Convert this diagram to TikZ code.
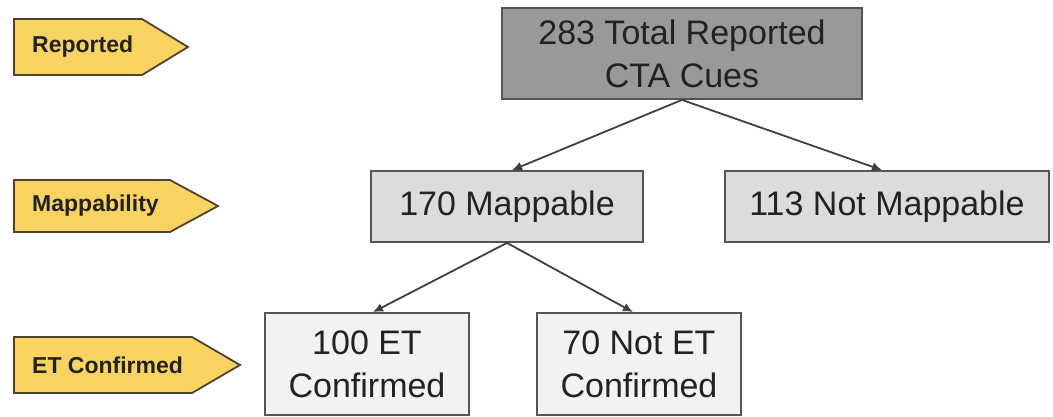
\documentclass[tikz,border=0pt]{standalone}
\usepackage{fontspec}
\setmainfont{Liberation Sans}
\usetikzlibrary{arrows.meta}
\definecolor{tagfill}{HTML}{F9D362}
\definecolor{tagline}{HTML}{4F4330}
\definecolor{topfill}{HTML}{999999}
\definecolor{midfill}{HTML}{DCDCDC}
\definecolor{lowfill}{HTML}{F2F2F2}
\definecolor{boxline}{HTML}{555555}
\definecolor{txt}{HTML}{222222}
\tikzset{
  box/.style={draw=boxline, line width=1.8pt, rectangle, align=center, text=txt,
    font=\fontsize{34}{43}\selectfont, inner sep=0pt},
  tagshape/.style={fill=tagfill, draw=tagline, line width=1.8pt, line join=miter},
  tagtext/.style={anchor=west, font=\bfseries\fontsize{23}{27}\selectfont, text=txt, inner sep=0pt},
  link/.style={draw=black!75, line width=1.8pt, -{Latex[length=10pt,width=9pt]}}
}
\begin{document}
\begin{tikzpicture}[x=1pt,y=-1pt]
\useasboundingbox (0,0) rectangle (1053,417);
% level tags
\draw[tagshape] (14,19) -- (142,19) -- (188,47) -- (142,75) -- (14,75) -- cycle;
\node[tagtext] (t1) at (32,47) {Reported};
\draw[tagshape] (14,180) -- (170,180) -- (218,206) -- (170,232) -- (14,232) -- cycle;
\node[tagtext] (t2) at (32,206) {Mappability};
\draw[tagshape] (14,337) -- (192,337) -- (240,365) -- (192,393) -- (14,393) -- cycle;
\node[tagtext] (t3) at (32,365) {ET Confirmed};
% boxes
\node[box, fill=topfill, minimum width=360pt, minimum height=91pt] (top) at (682,53.5) {283 Total Reported\\CTA Cues};
\node[box, fill=midfill, minimum width=272pt, minimum height=71pt] (map) at (507,206.5) {170 Mappable};
\node[box, fill=midfill, minimum width=324pt, minimum height=71pt] (nmap) at (887,206.5) {113 Not Mappable};
\node[box, fill=lowfill, minimum width=204pt, minimum height=102pt] (et) at (367,364) {100 ET\\Confirmed};
\node[box, fill=lowfill, minimum width=204pt, minimum height=102pt] (net) at (639,364) {70 Not ET\\Confirmed};
% connectors
\draw[link] (top.south) -- ([xshift=5pt]map.north);
\draw[link] (top.south) -- ([xshift=-5pt]nmap.north);
\draw[link] (map.south) -- ([xshift=6pt]et.north);
\draw[link] (map.south) -- ([xshift=-6pt]net.north);
\end{tikzpicture}
\end{document}
